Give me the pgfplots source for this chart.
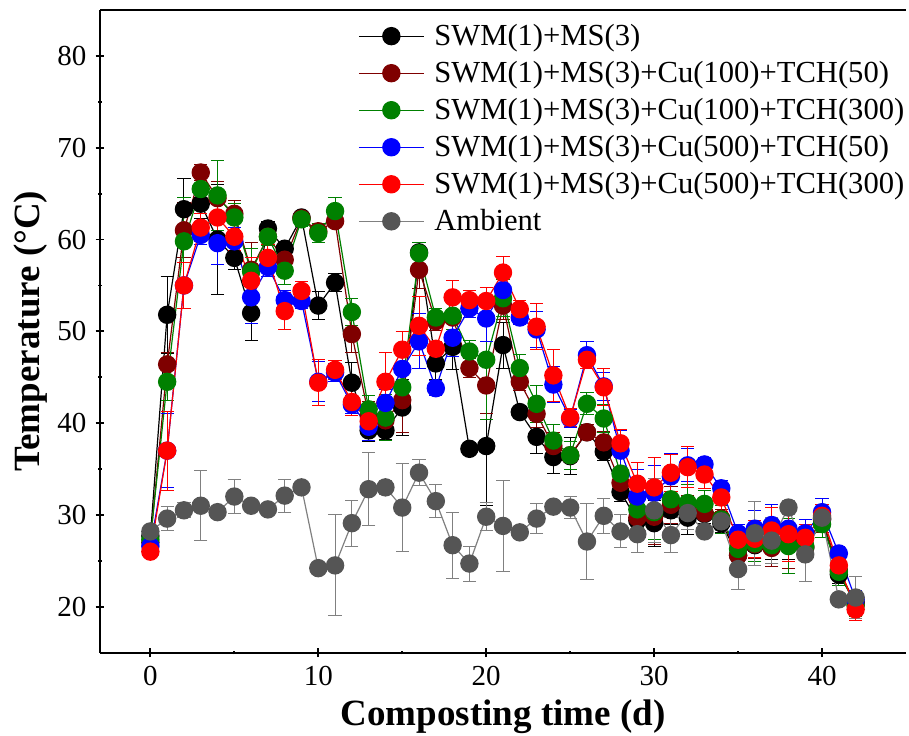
\documentclass[border=0pt]{standalone}
\usepackage{fontspec}
\setmainfont{Liberation Serif}
\usepackage{pgfplots}
\usepackage{pgfplotstable}
\pgfplotsset{compat=1.18}

\definecolor{cmaroon}{HTML}{7F0000}
\definecolor{cgreen}{HTML}{008000}
\definecolor{cblue}{HTML}{0000FF}
\definecolor{cred}{HTML}{FF0000}
\definecolor{cgray}{HTML}{555555}
\definecolor{cgrayline}{HTML}{808080}

% day, temperature, error
\pgfplotstableread{
x y e
0 27.7 0.8
1 51.8 4.2
2 63.3 3.3
3 63.9 1.6
4 60.0 6.0
5 58.0 1.3
6 52.0 3.0
7 61.2 0.8
8 59.0 0.6
9 62.4 0.5
10 52.8 1.5
11 55.3 1.0
12 44.4 2.2
13 39.2 1.2
14 39.2 1.0
15 41.7 3.0
16 58.6 0.6
17 46.5 1.7
18 48.3 2.5
19 37.2 0.6
20 37.5 6.5
21 48.5 2.5
22 41.2 0.5
23 38.5 1.8
24 36.3 1.8
25 36.4 2.0
26 39.0 0.6
27 36.9 1.0
28 32.5 1.0
29 29.4 1.5
30 29.1 2.5
31 30.5 1.5
32 29.7 1.8
33 30.1 1.0
34 29.1 1.0
35 25.6 1.0
36 26.7 1.5
37 26.6 1.5
38 27.1 2.0
39 26.4 1.0
40 29.5 1.0
41 23.5 1.0
42 20.5 1.0
}\tblack

\pgfplotstableread{
x y e
0 27.0 0.8
1 46.4 1.3
2 61.0 3.0
3 67.3 0.9
4 64.5 1.8
5 62.8 1.5
6 56.7 3.0
7 60.3 0.8
8 57.8 1.0
9 62.3 0.5
10 60.9 0.8
11 62.0 0.5
12 49.7 2.0
13 40.8 1.5
14 40.3 1.5
15 42.5 3.5
16 56.7 2.0
17 51.1 1.0
18 51.5 1.5
19 46.0 1.0
20 44.1 3.0
21 52.8 1.5
22 44.5 1.0
23 41.0 1.5
24 37.5 1.5
25 36.5 1.5
26 39.0 0.8
27 37.9 1.2
28 33.5 1.2
29 29.7 2.0
30 29.8 3.0
31 31.1 2.0
32 30.6 1.5
33 30.2 1.5
34 29.6 1.0
35 25.6 1.0
36 26.8 1.5
37 26.4 2.0
38 27.2 3.0
39 26.5 1.0
40 29.6 1.5
41 24.0 1.0
42 20.3 1.0
}\tmaroon

\pgfplotstableread{
x y e
0 27.3 0.8
1 44.5 2.0
2 59.8 4.8
3 65.5 2.0
4 64.8 3.8
5 62.4 1.5
6 56.5 2.5
7 60.3 1.0
8 56.6 1.5
9 62.2 0.8
10 60.7 1.0
11 63.1 1.5
12 52.1 1.5
13 41.5 1.5
14 40.6 2.5
15 43.9 2.5
16 58.5 1.2
17 51.5 1.0
18 51.7 1.5
19 47.8 1.2
20 46.9 6.5
21 53.6 2.0
22 46.0 1.5
23 42.1 2.0
24 38.1 1.8
25 36.5 1.5
26 42.1 1.2
27 40.5 1.5
28 34.5 1.8
29 30.6 2.0
30 30.3 3.0
31 31.7 2.0
32 31.3 2.0
33 31.2 1.5
34 29.5 1.5
35 26.3 1.2
36 26.9 2.0
37 26.7 2.0
38 26.6 3.0
39 26.6 1.5
40 29.0 1.5
41 23.8 1.5
42 20.1 1.2
}\tgreen

\pgfplotstableread{
x y e
0 26.6 0.8
1 37.0 4.0
2 55.0 2.5
3 60.5 1.0
4 59.6 2.3
5 59.8 1.5
6 53.7 2.8
7 57.0 1.0
8 53.4 1.0
9 53.3 0.8
10 44.5 2.2
11 45.5 1.0
12 42.0 1.0
13 39.6 1.5
14 42.2 1.5
15 45.9 2.0
16 48.9 3.0
17 43.8 0.8
18 49.3 2.0
19 52.5 1.0
20 51.4 2.5
21 54.5 1.5
22 51.5 0.8
23 50.2 2.0
24 44.2 2.0
25 40.5 1.0
26 47.4 1.5
27 44.0 1.5
28 37.0 2.2
29 32.0 3.0
30 32.4 3.0
31 34.2 2.5
32 35.4 1.8
33 35.5 0.8
34 32.9 0.8
35 28.0 1.0
36 28.5 2.0
37 28.9 2.2
38 28.5 2.5
39 28.0 1.5
40 30.3 1.5
41 25.8 0.8
42 20.8 1.0
}\tblue

\pgfplotstableread{
x y e
0 26.0 0.6
1 37.0 4.3
2 55.0 2.5
3 61.3 1.5
4 62.4 2.0
5 60.3 1.5
6 55.5 2.5
7 58.0 1.5
8 52.2 2.0
9 54.4 1.0
10 44.4 2.5
11 45.8 1.0
12 42.3 1.5
13 40.2 1.5
14 44.5 3.2
15 48.0 2.0
16 50.6 3.2
17 48.1 0.8
18 53.7 1.8
19 53.4 1.0
20 53.3 1.5
21 56.4 1.8
22 52.4 1.0
23 50.5 2.5
24 45.2 2.8
25 40.6 1.0
26 46.9 1.0
27 43.9 2.0
28 37.8 1.5
29 33.4 2.3
30 33.0 3.2
31 34.6 2.0
32 35.2 2.2
33 34.4 1.5
34 31.9 1.5
35 27.3 1.0
36 27.4 2.0
37 28.3 2.5
38 27.9 3.0
39 27.5 1.5
40 29.9 1.2
41 24.5 1.0
42 19.7 1.2
}\tred

\pgfplotstableread{
x y e
0 28.2 0.6
1 29.6 1.3
2 30.5 0.8
3 31.0 3.8
4 30.3 0.5
5 32.0 1.9
6 31.0 0.5
7 30.6 0.5
8 32.1 1.8
9 33.0 0.5
10 24.2 0.6
11 24.5 5.5
12 29.1 2.5
13 32.8 4.0
14 33.0 0.8
15 30.8 4.8
16 34.6 1.4
17 31.5 1.8
18 26.7 3.6
19 24.7 1.9
20 29.8 1.5
21 28.8 5.0
22 28.1 0.5
23 29.6 1.6
24 30.9 0.5
25 30.8 1.2
26 27.1 4.1
27 29.9 1.9
28 28.2 1.8
29 27.9 2.0
30 30.5 3.5
31 27.8 1.9
32 30.2 1.8
33 28.2 0.5
34 29.3 1.0
35 24.1 2.2
36 28.0 3.5
37 27.2 2.5
38 30.8 0.8
39 25.7 3.0
40 29.7 1.0
41 20.8 0.5
42 21.0 2.3
}\tgray

\pgfplotsset{
  series/.style 2 args={
    color=#2, line width=0.6pt, mark=*, mark size=4.3pt,
    mark options={solid, fill=#1, draw=#1},
    error bars/.cd, y dir=both, y explicit,
    error bar style={line width=0.5pt, #2},
    error mark options={rotate=90, mark size=3.3pt, line width=0.5pt, #2},
  },
}

\begin{document}
\begin{tikzpicture}
\useasboundingbox (-50pt,-41.5pt) rectangle (404.5pt,326.3pt);
\begin{axis}[
    scale only axis,
    width=403pt, height=321.3pt,
    xmin=-3, xmax=45, ymin=15, ymax=85,
    axis x line*=box, axis y line*=left,
    xtick pos=bottom, ytick pos=left,
    xtick={0,10,20,30,40}, ytick={20,30,40,50,60,70,80},
    minor x tick num=1, minor y tick num=1,
    tick align=center,
    major tick length=4.5pt, minor tick length=1.8pt,
    axis line style={line width=1pt},
    every tick/.style={line width=0.9pt, black},
    tick label style={font=\fontsize{14.5}{16}\selectfont},
    xticklabel style={yshift=-1pt},
    yticklabel style={xshift=-1pt},
    /pgf/number format/assume math mode=true,
    xlabel={Composting time (d)},
    ylabel={Temperature (°C)},
    ylabel style={yshift=-2pt},
    label style={font=\fontsize{18.5}{22}\selectfont\bfseries},
    legend style={at={(0.32,0.985)}, anchor=north west, draw=none, fill=none,
        font=\fontsize{15.3}{18}\selectfont, inner sep=0pt,
        row sep=2.4pt, column sep=3pt},
    legend cell align=left,
    legend image code/.code={
        \draw[mark repeat=2, mark phase=2]
        plot coordinates {(0cm,0cm) (0.57cm,0cm) (1.14cm,0cm)};
    },
]
\addplot[series={black}{black}] table[x=x, y=y, y error=e] {\tblack};
\addlegendentry{SWM(1)+MS(3)}
\addplot[series={cmaroon}{cmaroon}] table[x=x, y=y, y error=e] {\tmaroon};
\addlegendentry{SWM(1)+MS(3)+Cu(100)+TCH(50)}
\addplot[series={cgreen}{cgreen}] table[x=x, y=y, y error=e] {\tgreen};
\addlegendentry{SWM(1)+MS(3)+Cu(100)+TCH(300)}
\addplot[series={cblue}{cblue}] table[x=x, y=y, y error=e] {\tblue};
\addlegendentry{SWM(1)+MS(3)+Cu(500)+TCH(50)}
\addplot[series={cred}{cred}] table[x=x, y=y, y error=e] {\tred};
\addlegendentry{SWM(1)+MS(3)+Cu(500)+TCH(300)}
\addplot[series={cgray}{cgrayline}] table[x=x, y=y, y error=e] {\tgray};
\addlegendentry{Ambient}
\end{axis}
\end{tikzpicture}
\end{document}
